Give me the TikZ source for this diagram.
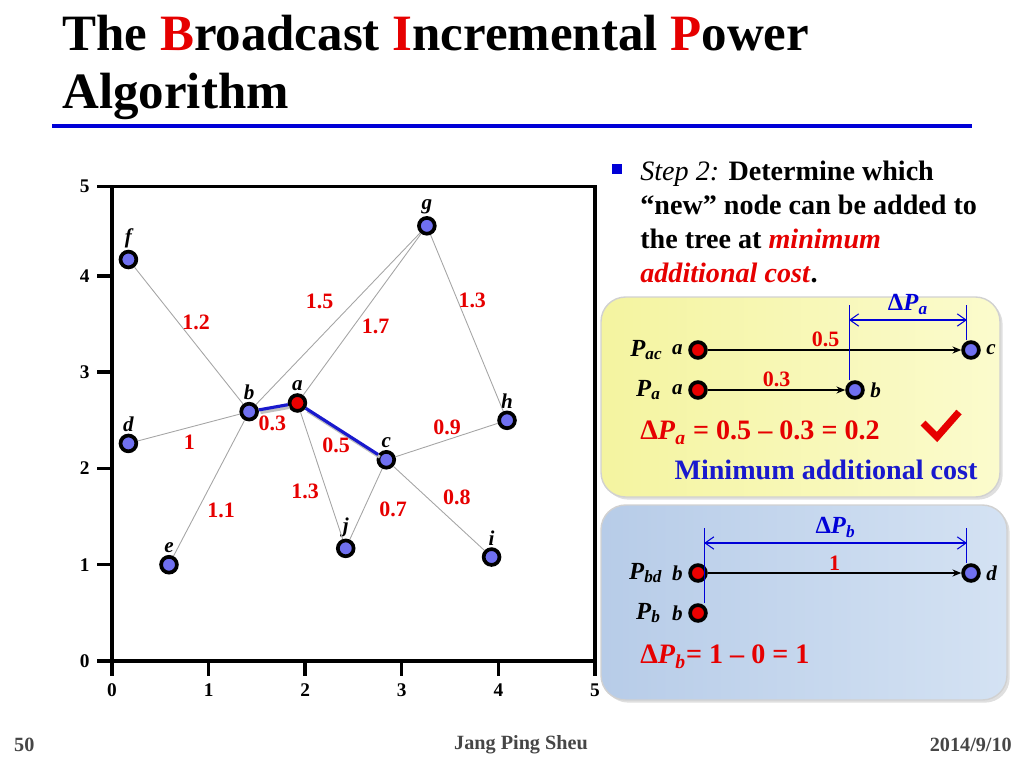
\documentclass[tikz,border=0pt]{standalone}
\usepackage{fontspec}
\setmainfont{Liberation Serif}
\usetikzlibrary{positioning,arrows.meta,shadows}

\definecolor{ptblue}{RGB}{112,112,240}
\definecolor{ptred}{RGB}{235,0,0}
\definecolor{txtred}{RGB}{230,0,0}
\definecolor{rulblue}{RGB}{0,0,215}
\definecolor{treeblue}{RGB}{25,25,205}
\definecolor{yelL}{RGB}{244,244,160}
\definecolor{yelR}{RGB}{251,251,205}
\definecolor{bluL}{RGB}{183,204,232}
\definecolor{bluR}{RGB}{212,226,243}
\definecolor{edgegray}{RGB}{165,165,165}
\definecolor{footgray}{RGB}{70,70,70}

\newcommand{\Pv}[1]{\textit{P}\textsubscript{\textit{#1}}}

\tikzset{
  vtx/.style={circle,draw=black,line width=2.1pt,fill=ptblue,inner sep=0pt,minimum size=9pt},
  vtxa/.style={vtx,fill=ptred},
  vname/.style={font=\fontsize{12}{12}\selectfont\bfseries\itshape,inner sep=1pt},
  pname/.style={font=\fontsize{14}{14}\selectfont\bfseries,inner sep=0pt},
  cost/.style={text=txtred,font=\fontsize{12.5}{12.5}\selectfont\bfseries},
  link/.style={edgegray,line width=0.5pt},
  treelink/.style={treeblue,line width=1.8pt},
  axisline/.style={line width=1.9pt},
  ticklbl/.style={font=\fontsize{11}{11}\selectfont\bfseries},
  infobox/.style={rounded corners=14pt,draw=black!18,line width=0.8pt,
    drop shadow={opacity=0.25,shadow xshift=1.5pt,shadow yshift=-1.5pt}},
  dimline/.style={rulblue,line width=0.6pt},
  measure/.style={rulblue,line width=0.6pt,
    {Straight Barb[length=5pt,width=7pt]}-{Straight Barb[length=5pt,width=7pt]}},
  hop/.style={black,line width=0.6pt,-{Stealth[length=5pt,width=4pt]}},
  bigtxt/.style={font=\fontsize{16}{19.3}\selectfont\bfseries},
  foot/.style={text=footgray,font=\fontsize{11.5}{11.5}\selectfont\bfseries},
}

\begin{document}
\begin{tikzpicture}[x=0.02cm,y=-0.02cm]
\useasboundingbox (0,0) rectangle (1024,768);

% title
\node[anchor=base west,font=\fontsize{29}{33}\selectfont\bfseries,inner sep=0pt] (title1) at (62,50)
  {The \textcolor{txtred}{B}roadcast \textcolor{txtred}{I}ncremental \textcolor{txtred}{P}ower};
\node[anchor=base west,font=\fontsize{29}{33}\selectfont\bfseries,inner sep=0pt] (title2) at (62,108) {Algorithm};
\draw[rulblue,line width=2pt] (52,126) -- (972,126);

% the plot
\begin{scope}[shift={(112,661)},x=1.932cm,y=1.926cm]
\draw[axisline] (0,0) rectangle (5,4.93);
\foreach \k in {0,...,5}
  \draw[axisline] (\k,0) -- (\k,-0.155) node[ticklbl,below=0pt] (xt\k) {\k};
\foreach \k in {0,...,4}
  \draw[axisline] (0,\k) -- (-0.155,\k) node[ticklbl,left=0pt] (yt\k) {\k};
\draw[axisline] (0,4.93) -- (-0.155,4.93) node[ticklbl,left=0pt] (yt5) {5};

\node[vtx,label={[vname]above:f}] (f) at (0.17,4.17) {};
\node[vtx,label={[vname]above:g}] (g) at (3.26,4.52) {};
\node[vtx,label={[vname]above:b}] (b) at (1.42,2.59) {};
\node[vtxa,label={[vname]above:a}] (a) at (1.92,2.68) {};
\node[vtx,label={[vname]above:d}] (d) at (0.17,2.26) {};
\node[vtx,label={[vname]above:h}] (h) at (4.09,2.50) {};
\node[vtx,label={[vname]above:c}] (c) at (2.84,2.09) {};
\node[vtx,label={[vname]above:e}] (e) at (0.59,1.00) {};
\node[vtx,label={[vname]above:j}] (j) at (2.42,1.17) {};
\node[vtx,label={[vname]above:i}] (i) at (3.93,1.08) {};

\draw[link] (f) -- (b) (b) -- (g) (a) -- (g) (g) -- (h) (d) -- (b)
  (b) -- (e) (a) -- (j) (j) -- (c) (c) -- (h) (c) -- (i);
\draw[treelink,black!25,transform canvas={shift={(1pt,-1.5pt)}}] (b) -- (a) -- (c);
\draw[treelink] (b) -- (a) -- (c);

\node[cost] (wfb) at (0.87,3.52) {1.2};
\node[cost] (wbg) at (2.15,3.73) {1.5};
\node[cost] (wag) at (2.73,3.48) {1.7};
\node[cost] (wgh) at (3.73,3.75) {1.3};
\node[cost] (wba) at (1.66,2.47) {0.3};
\node[cost] (wdb) at (0.80,2.27) {1};
\node[cost] (wac) at (2.32,2.24) {0.5};
\node[cost] (wch) at (3.47,2.43) {0.9};
\node[cost] (waj) at (2.00,1.76) {1.3};
\node[cost] (wbe) at (1.13,1.56) {1.1};
\node[cost] (wjc) at (2.91,1.58) {0.7};
\node[cost] (wci) at (3.57,1.70) {0.8};
\end{scope}

% step text
\node[fill=rulblue,inner sep=0pt,minimum size=5.5pt] (bullet) at (617,169) {};
\node[bigtxt,anchor=north west,inner sep=0pt,align=left] (step) at (640,161)
  {\textit{\mdseries Step 2:} Determine which\\
   “new” node can be added to\\
   the tree at \textcolor{txtred}{\textit{minimum}}\\
   \textcolor{txtred}{\textit{additional cost}}.};

% yellow box
\draw[infobox,left color=yelL,right color=yelR] (601,297) rectangle (1000,497);
\node[vtxa] (ya1) at (698,350) {};
\node[vtx] (yc) at (971,350) {};
\node[vtxa] (ya2) at (698,390) {};
\node[vtx] (yb) at (855,390) {};
\node[vname,left=2pt of ya1] (ya1n) {a};
\node[vname,left=2pt of ya2] (ya2n) {a};
\node[vname,right=2pt of yc] (ycn) {c};
\node[vname,right=2pt of yb] (ybn) {b};
\node[pname,left=4pt of ya1n] (pac) {\Pv{ac}};
\node[pname,left=5pt of ya2n] (pa) {\Pv{a}};
\draw[hop] (ya1) -- node[cost,pos=0.465,above=-2pt] (ycost1) {0.5} (yc);
\draw[hop] (ya2) -- node[cost,midway,above=-2pt] (ycost2) {0.3} (yb);
\coordinate (ytop) at (0,305);
\coordinate (ydim) at (0,320);
\coordinate (yl) at ([xshift=-3.4pt]yb.north);
\coordinate (yr) at ([xshift=-2.3pt]yc.north);
\draw[dimline] (yl) -- (yl |- ytop);
\draw[dimline] (yr) -- (yr |- ytop);
\draw[measure] (yl |- ydim) -- node[pname,above=3pt] (dpa) {Δ\Pv{a}} (yr |- ydim);
\node[bigtxt,text=txtred,anchor=west,inner sep=0pt] (fa) at (640,433)
  {Δ\Pv{a} = 0.5 -- 0.3 = 0.2};
\draw[txtred,line width=4pt] (923,423) -- (937,437) -- (959,412);
\node[bigtxt,text=treeblue] (mac) at (826,470) {Minimum additional cost};

% blue box
\draw[infobox,left color=bluL,right color=bluR] (601,505) rectangle (1007,700);
\node[vtxa] (bb1) at (698,573) {};
\node[vtx] (bd) at (971,573) {};
\node[vtxa] (bb2) at (698,613) {};
\node[vname,left=2pt of bb1] (bb1n) {b};
\node[vname,left=2pt of bb2] (bb2n) {b};
\node[vname,right=2pt of bd] (bdn) {d};
\node[pname,left=4pt of bb1n] (pbd) {\Pv{bd}};
\node[pname,left=5pt of bb2n] (pb) {\Pv{b}};
\draw[hop] (bb1) -- node[cost,pos=0.5,above=-2pt] (bcost) {1} (bd);
\coordinate (btop) at (0,528);
\coordinate (bdim) at (0,543);
\coordinate (bl) at ([xshift=3.5pt]bb2.north);
\coordinate (br) at ([xshift=-2.3pt]bd.north);
\draw[dimline] (bl) -- (bl |- btop);
\draw[dimline] (br) -- (br |- btop);
\draw[measure] (bl |- bdim) -- node[pname,above=3pt] (dpb) {Δ\Pv{b}} (br |- bdim);
\node[bigtxt,text=txtred,anchor=west,inner sep=0pt] (fb) at (640,657)
  {Δ\Pv{b}= 1 -- 0 = 1};

% footer
\node[foot,anchor=west] (pg) at (8,745) {50};
\node[foot] (auth) at (521,745) {Jang Ping Sheu};
\node[foot,anchor=east] (date) at (1018,745) {2014/9/10};
\end{tikzpicture}
\end{document}
